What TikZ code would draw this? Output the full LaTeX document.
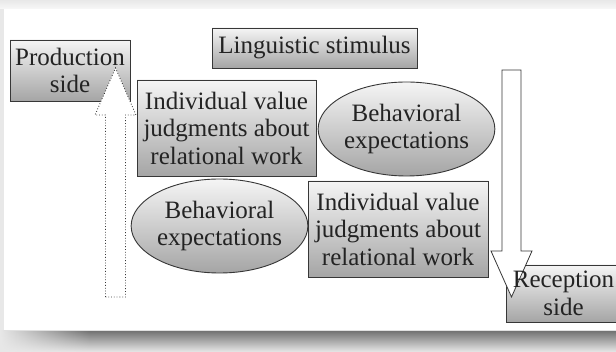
\documentclass[tikz,border=0pt]{standalone}
\usepackage{fontspec}
\setmainfont{Liberation Serif}
\usetikzlibrary{shapes.geometric,fadings,calc}
\definecolor{bggray}{RGB}{232,232,232}
\definecolor{edgegray}{RGB}{55,55,55}
\definecolor{shadegray}{RGB}{165,165,165}
\definecolor{txtgray}{RGB}{35,35,35}
\tikzset{
  boxbase/.style={draw=edgegray, line width=0.9pt, top color=black!4, bottom color=shadegray,
    font=\fontsize{25}{27.5}\selectfont, align=center, inner sep=0pt, text=txtgray},
  rectbox/.style={boxbase, rectangle},
  ellbox/.style={boxbase, ellipse},
  blockarrow/.style={draw=edgegray, line width=0.8pt, fill=white},
}
\begin{document}
\begin{tikzpicture}[x=1pt,y=-1pt]
\useasboundingbox (0,0) rectangle (616,352);
% background
\fill[bggray] (0,0) rectangle (616,352);
\shade[top color=bggray, bottom color=black!3] (0,0) rectangle (616,9);
\shade[top color=black!55, bottom color=bggray] (0,331) rectangle (616,352);
\fill[bggray, path fading=east] (0,329) rectangle (90,352);
\fill[white] (4,9) rectangle (616,330);
\draw[black!12, line width=0.6pt] (4,330) -- (616,330);
% nodes
\node[rectbox, minimum width=120pt, minimum height=61pt] (prod) at (70,70.5) {Production\\side};
\node[rectbox, minimum width=205pt, minimum height=40pt] (ling) at (314.5,48) {Linguistic stimulus};
\node[rectbox, minimum width=179pt, minimum height=96pt] (ind1) at (226.5,128) {Individual value\\judgments about\\relational work};
\node[ellbox, minimum width=159pt, minimum height=94pt] (beh1) at (406.5,129) {Behavioral\\expectations};
\node[ellbox, minimum width=157pt, minimum height=94pt] (beh2) at (219.5,226) {Behavioral\\expectations};
\node[rectbox, minimum width=180pt, minimum height=96pt] (ind2) at (398,229) {Individual value\\judgments about\\relational work};
% reception box (fill first, text after arrow)
\node[rectbox, minimum width=122pt, minimum height=57pt] (rec) at (567,293.5) {\phantom{Reception}\\\phantom{side}};
% up dotted arrow
\coordinate (upbase) at (115.5,297);
\coordinate (uptip) at (115.5,68);
\draw[blockarrow, dotted, line width=0.9pt]
  ($(upbase)+(-10,0)$) -- (105.5,115) -- (95,115) -- (uptip) -- (136,115) -- (125.5,115) -- ($(upbase)+(10,0)$) -- cycle;
% down arrow
\coordinate (dntop) at (511.5,70);
\coordinate (dntip) at (511.5,297);
\draw[blockarrow]
  (502,70) -- (521,70) -- (521,251) -- (532,251) -- (dntip) -- (491,251) -- (502,251) -- cycle;
\node[font=\fontsize{25}{27.5}\selectfont, align=center, inner sep=0pt, text=txtgray] (rectext) at ($(rec.center)+(-3.5,0)$) {Reception\\side};
\end{tikzpicture}
\end{document}
